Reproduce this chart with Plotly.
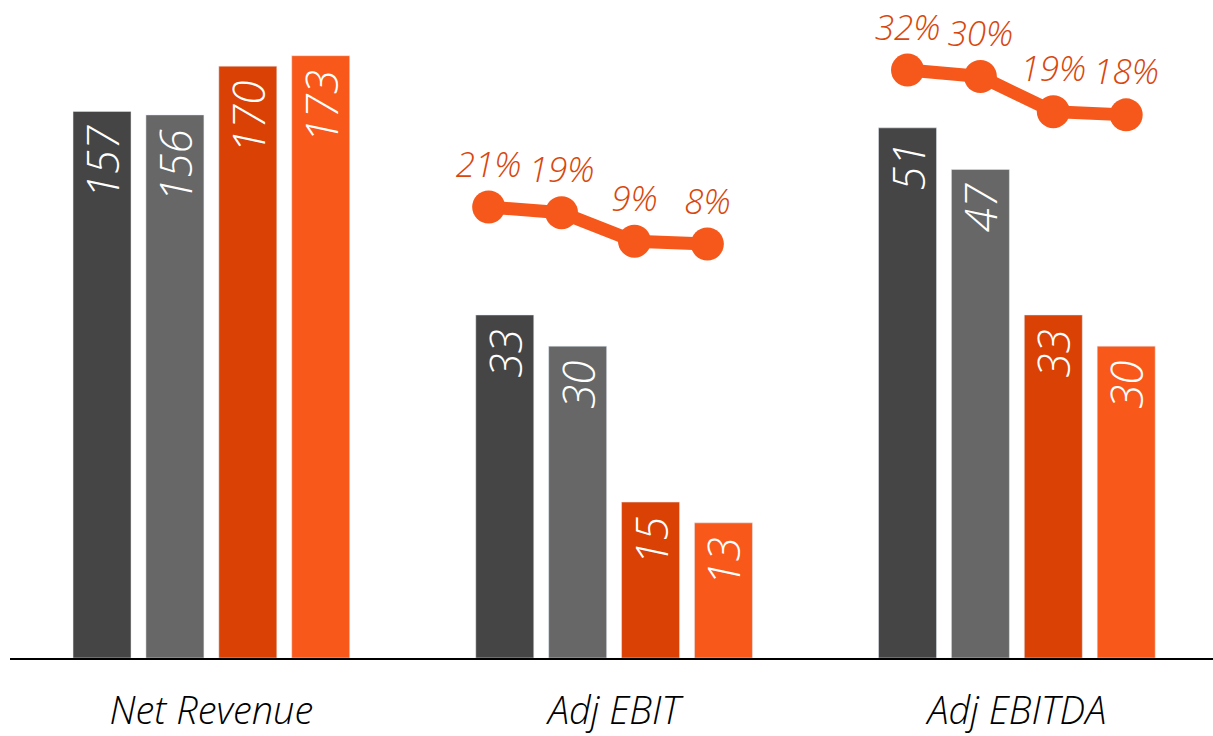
import plotly.graph_objects as go

# -----------------------------
# Daten
# -----------------------------
categories = ["Net Revenue", "Adj EBIT", "Adj EBITDA"]
periods = ["Period 1", "Period 2", "Period 3", "Period 4"]
net_revenue = [157, 156, 170, 173]
adj_ebit = [33, 30, 15, 13]
adj_ebitda = [51, 47, 33, 30]
ebit_margin = [21, 19, 9, 8]
ebitda_margin = [32, 30, 19, 18]

colors = ["#454545", "#676767", "#d94105", "#f8581a"]
line_color = "#f6581b"
label_color = "#d9470d"
FONT = "Open Sans"

# Balkengeometrie (in x-Einheiten pro Kategorie)
step = 0.181
width = 0.144

bar_font = dict(family=FONT, size=44, color="white", style="italic", weight=300)

fig = go.Figure()

for k, name in enumerate(periods):
    offset = (k - 2) * step + (step - width) / 2
    # Net Revenue auf eigener Skala (y2)
    fig.add_trace(go.Bar(
        x=[0], y=[net_revenue[k]], name=name, yaxis="y2",
        width=width, offset=offset, marker_color=colors[k],
        text=[net_revenue[k]], texttemplate="%{text}\u00a0",
        textposition="inside", insidetextanchor="end", textangle=-90,
        textfont=bar_font, constraintext="none",
        showlegend=False,
    ))
    # EBIT / EBITDA (y)
    fig.add_trace(go.Bar(
        x=[1, 2], y=[adj_ebit[k], adj_ebitda[k]], name=name, yaxis="y",
        width=width, offset=offset, marker_color=colors[k],
        text=[adj_ebit[k], adj_ebitda[k]], texttemplate="%{text}\u00a0",
        textposition="inside", insidetextanchor="end", textangle=-90,
        textfont=bar_font, constraintext="none",
        showlegend=False,
    ))

# Margen-Linien
centers = [(k - 1.5) * step for k in range(len(periods))]
for base, shift, vals, ax in [(1, -0.04, ebit_margin, "y3"), (2, 0.0, ebitda_margin, "y4")]:
    fig.add_trace(go.Scatter(
        x=[base + shift + c for c in centers], y=vals, yaxis=ax,
        mode="lines+markers+text", text=[f"{v}%" for v in vals],
        textposition="top center",
        textfont=dict(family=FONT, size=35, color=label_color, style="italic", weight=300),
        line=dict(color=line_color, width=13),
        marker=dict(color=line_color, size=33),
        cliponaxis=False, showlegend=False,
    ))

fig.update_layout(
    width=1213, height=736,
    margin=dict(l=10, r=0, t=0, b=78),
    paper_bgcolor="white", plot_bgcolor="white",
    xaxis=dict(
        range=[-0.5, 2.487], tickvals=[0, 1, 2], ticktext=categories,
        showline=True, linecolor="black", linewidth=2, showgrid=False,
        zeroline=False, ticks="", ticklabelstandoff=18, automargin=False,
        tickfont=dict(family=FONT, size=38, color="black", style="italic", weight=300),
    ),
    yaxis=dict(range=[0, 63.3], visible=False, showgrid=False),
    yaxis2=dict(range=[0, 189], overlaying="y", visible=False, showgrid=False),
    yaxis3=dict(range=[-137.2, 93.6], overlaying="y", visible=False, showgrid=False),
    yaxis4=dict(range=[-151.75, 53.9], overlaying="y", visible=False, showgrid=False),
)

fig.write_html("out.html", config={"displayModeBar": False},
               post_script="document.body.style.margin='0px';")
